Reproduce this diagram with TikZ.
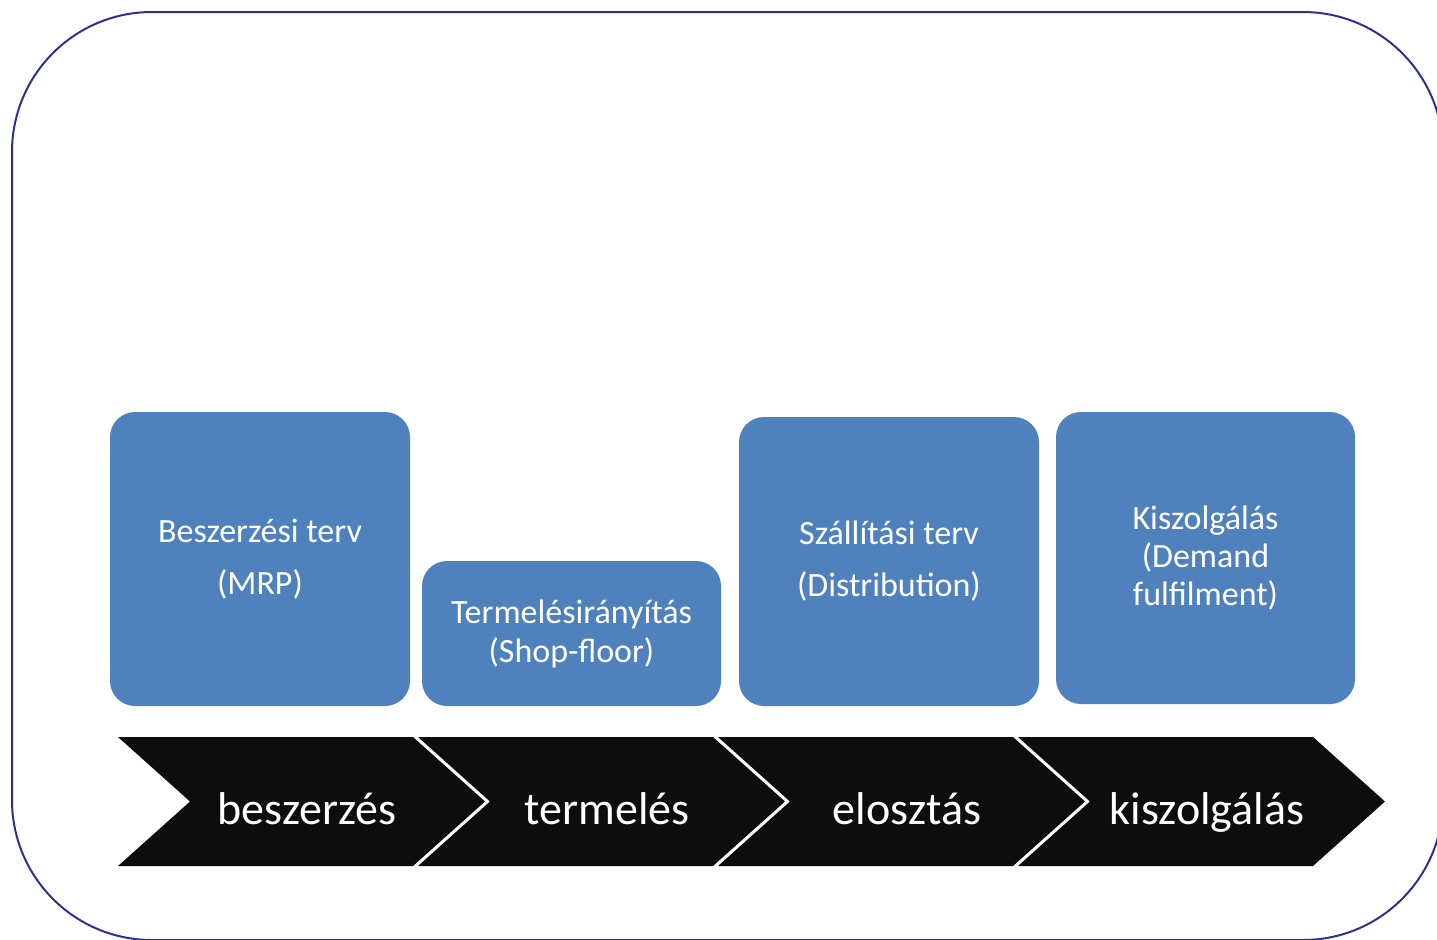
\documentclass[tikz,border=0pt]{standalone}
\usepackage{fontspec}
\setmainfont{Carlito}
\definecolor{boxblue}{HTML}{4F81BD}
\definecolor{chev}{HTML}{0D0D0D}
\definecolor{frameblue}{HTML}{2E3192}
\begin{document}
\begin{tikzpicture}[x=0.5pt,y=-0.5pt,
	plan/.style={fill=boxblue, rounded corners=12.5pt, text=white, align=center, inner sep=0pt, font=\fontsize{17}{26}\selectfont},
	phase/.style={text=white, inner sep=0pt, anchor=base, font=\fontsize{23}{28}\selectfont}]
	\useasboundingbox (0,0) rectangle (1437,939);
	\clip (0,0) rectangle (1437,939);
	\draw[frameblue, line width=1pt, rounded corners=70pt] (12,12) rectangle (1443,940);
	% tervezesi szintek
	\node[plan, minimum width=150pt, minimum height=147pt] (mrp) at (260,559) {Beszerzési terv\\(MRP)};
	\node[plan, minimum width=149.5pt, minimum height=72.5pt, font=\fontsize{17}{19.5}\selectfont] (shop) at (571.5,633.5) {Termelésirányítás\\(Shop-floor)};
	\node[plan, minimum width=150pt, minimum height=144.5pt] (distr) at (889,561.5) {Szállítási terv\\(Distribution)};
	\node[plan, minimum width=149.5pt, minimum height=146pt, font=\fontsize{17}{19}\selectfont] (demand) at (1205.5,558) {Kiszolgálás\\(Demand\\fulfilment)};
	% folyamat nyilak
	\foreach \lab [count=\i from 0] in {beszerzés, termelés, elosztás, kiszolgálás}
	{
		\fill[chev] (118+300*\i,737) -- (413+300*\i,737) -- (485+300*\i,801.5)
		-- (413+300*\i,866) -- (118+300*\i,866) -- (190+300*\i,801.5) -- cycle;
		\node[phase] (phase\i) at (307+300*\i,824) {\lab};
	}
\end{tikzpicture}
\end{document}
